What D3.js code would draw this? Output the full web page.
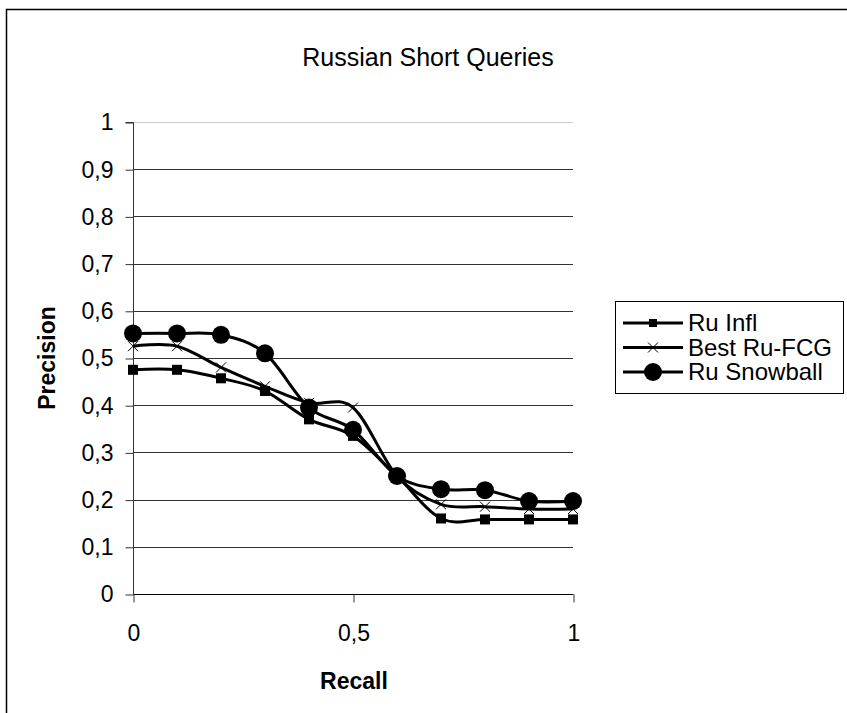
<!DOCTYPE html>
<html>
<head>
<meta charset="utf-8">
<script src="https://cdn.jsdelivr.net/npm/d3@7/dist/d3.min.js"></script>
<style>
html,body{margin:0;padding:0;background:#fff;}
svg{display:block;font-family:"Liberation Sans",Arial,sans-serif;}
</style>
</head>
<body>
<svg id="chart" width="847" height="713"></svg>
<script>
const recall = [0, 0.1, 0.2, 0.3, 0.4, 0.5, 0.6, 0.7, 0.8, 0.9, 1.0];
const ruInfl = [0.475, 0.475, 0.457, 0.43, 0.37, 0.335, 0.25, 0.16, 0.158, 0.158, 0.158];
const bestRuFCG = [0.525, 0.525, 0.48, 0.44, 0.405, 0.395, 0.25, 0.19, 0.185, 0.18, 0.18];
const ruSnowball = [0.552, 0.552, 0.549, 0.51, 0.395, 0.348, 0.25, 0.222, 0.22, 0.197, 0.197];
const seriesNames = ["Ru Infl", "Best Ru-FCG", "Ru Snowball"];
const yTicks = [0, 0.1, 0.2, 0.3, 0.4, 0.5, 0.6, 0.7, 0.8, 0.9, 1];
const xTicks = [0, 0.5, 1];
const title = "Russian Short Queries";

const svg = d3.select("#chart");
const fmt = v => String(v).replace(".", ",");
const FS = 23;

// outer frame
svg.append("rect").attr("x", 6.5).attr("y", 9.5).attr("width", 900).attr("height", 800)
  .attr("fill", "none").attr("stroke", "#000").attr("stroke-width", 1.5);

const x = d3.scaleLinear().domain([0, 1]).range([133, 573]);
const y = d3.scaleLinear().domain([0, 1]).range([594, 122]);

// gridlines
svg.append("g").selectAll("line").data(yTicks.filter(d => d > 0)).join("line")
  .attr("x1", x(0)).attr("x2", x(1))
  .attr("y1", d => Math.round(y(d)) + 0.5).attr("y2", d => Math.round(y(d)) + 0.5)
  .attr("stroke", d => d === 1 ? "#d0d0d0" : "#333").attr("stroke-width", 1);

// y axis
const yAxis = d3.axisLeft(y).tickValues(yTicks).tickSize(8).tickPadding(12).tickFormat(fmt);
const gy = svg.append("g").attr("transform", `translate(${x(0) + 0.5},0.5)`).call(yAxis);
gy.select(".domain").attr("stroke", "#333").attr("d", `M-8,${y(1)}H0V${y(0)}`);
gy.selectAll(".tick line").attr("stroke", "#333");
gy.selectAll("text").attr("font-size", FS).attr("fill", "#000")
  .attr("font-family", "Liberation Sans, Arial, sans-serif");

// x axis
const xAxis = d3.axisBottom(x).tickValues(xTicks).tickSize(8).tickPadding(22).tickFormat(fmt);
const gx = svg.append("g").attr("transform", `translate(0.5,${Math.round(y(0)) + 0.5})`).call(xAxis);
gx.select(".domain").attr("stroke", "#000").attr("d", `M${x(0)},0H${x(1)}`);
gx.selectAll(".tick line").attr("stroke", "#333");
gx.selectAll("text").attr("font-size", FS).attr("fill", "#000").attr("dy", "0.72em")
  .attr("font-family", "Liberation Sans, Arial, sans-serif");

// title and axis titles
svg.append("text").attr("x", 428).attr("y", 66).attr("text-anchor", "middle")
  .attr("font-size", 25).text(title);
svg.append("text").attr("x", 354).attr("y", 689).attr("text-anchor", "middle")
  .attr("font-size", FS).attr("font-weight", "bold").text("Recall");
svg.append("text").attr("transform", `translate(55,${y(0.5)}) rotate(-90)`)
  .attr("text-anchor", "middle").attr("font-size", FS).attr("font-weight", "bold").text("Precision");

const series = [
  {name: seriesNames[0], values: ruInfl, marker: "square"},
  {name: seriesNames[1], values: bestRuFCG, marker: "cross"},
  {name: seriesNames[2], values: ruSnowball, marker: "circle"}
];

const line = d3.line().x(d => x(d[0])).y(d => y(d[1])).curve(d3.curveCardinal.tension(0));

function drawMarker(g, type, cx, cy, legend) {
  if (type === "square") {
    const s = legend ? 8 : 10;
    g.append("rect").attr("x", cx - s / 2).attr("y", cy - s / 2).attr("width", s).attr("height", s).attr("fill", "#000");
  } else if (type === "cross") {
    const s = 5;
    g.append("path").attr("d", `M${cx - s},${cy - s}L${cx + s},${cy + s}M${cx - s},${cy + s}L${cx + s},${cy - s}`)
      .attr("stroke", "#000").attr("stroke-width", 1).attr("fill", "none");
  } else {
    g.append("circle").attr("cx", cx).attr("cy", cy).attr("r", 9).attr("fill", "#000");
  }
}

const plot = svg.append("g");
series.forEach(s => {
  const pts = recall.map((r, i) => [r, s.values[i]]);
  plot.append("path").attr("d", line(pts)).attr("fill", "none").attr("stroke", "#000").attr("stroke-width", 3);
  const mg = plot.append("g");
  pts.forEach(p => drawMarker(mg, s.marker, x(p[0]), y(p[1]), false));
});

// legend
const lg = svg.append("g");
lg.append("rect").attr("x", 615.5).attr("y", 301.5).attr("width", 228).attr("height", 92)
  .attr("fill", "#fff").attr("stroke", "#000").attr("stroke-width", 1);
series.forEach((s, i) => {
  const cy = 323 + i * 24.5;
  lg.append("line").attr("x1", 623).attr("x2", 683).attr("y1", cy).attr("y2", cy)
    .attr("stroke", "#000").attr("stroke-width", 3);
  drawMarker(lg, s.marker, 653, cy, true);
  lg.append("text").attr("x", 688).attr("y", cy + 8).attr("font-size", 24).text(s.name);
});
</script>
</body>
</html>
